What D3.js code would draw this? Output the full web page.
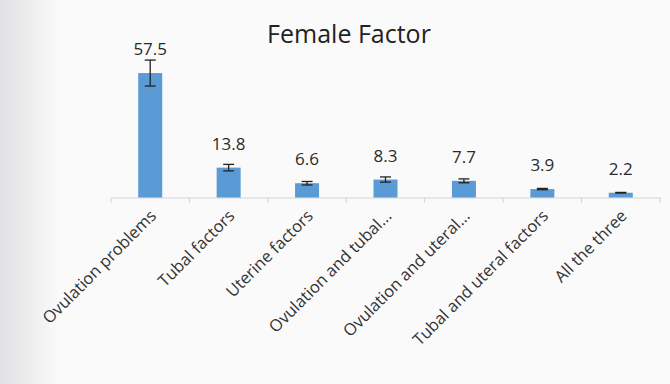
<!DOCTYPE html>
<html lang="en">
<head>
    <meta charset="UTF-8">
    <title>Female Factor</title>
    <script src="https://d3js.org/d3.v7.min.js"></script>
    <style>
        body { margin: 0; background: #fafafb; }
        svg { display: block; }
    </style>
</head>
<body>
    <svg id="chart"></svg>

    <script>
        const categories = ["Ovulation problems", "Tubal factors", "Uterine factors", "Ovulation and tubal...",
            "Ovulation and uteral...", "Tubal and uteral factors", "All the three"];
        const values = [57.5, 13.8, 6.6, 8.3, 7.7, 3.9, 2.2];
        const errors = [6.0, 1.5, 0.8, 1.2, 0.9, 0.3, 0.15];

        const width = 670;
        const height = 384;
        const font = "'Open Sans', 'Liberation Sans', sans-serif";

        const svg = d3.select("#chart")
            .attr("width", width)
            .attr("height", height);

        // slide shading on the left
        const grad = svg.append("defs").append("linearGradient")
            .attr("id", "edge").attr("x1", 0).attr("x2", 1);
        grad.append("stop").attr("offset", "0%").attr("stop-color", "#e1e1e3");
        grad.append("stop").attr("offset", "100%").attr("stop-color", "#fafafb");
        svg.append("rect").attr("width", width).attr("height", height).attr("fill", "#fafafb");
        svg.append("rect").attr("width", 60).attr("height", height).attr("fill", "url(#edge)");

        const x = d3.scaleBand()
            .domain(categories)
            .range([111, 660]);

        const y = d3.scaleLinear()
            .domain([0, 70])
            .range([197.5, 46]);

        // axis
        const xAxis = svg.append("g")
            .attr("transform", "translate(0,197.5)")
            .call(d3.axisBottom(x).tickSize(0).tickFormat(""));
        xAxis.select(".domain").attr("stroke", "#d4d4d4");

        svg.append("g")
            .selectAll("line")
            .data(d3.range(categories.length + 1))
            .join("line")
            .attr("x1", i => 111 + i * x.step())
            .attr("x2", i => 111 + i * x.step())
            .attr("y1", 197.5)
            .attr("y2", 203)
            .attr("stroke", "#d4d4d4");

        const barW = 24;

        svg.append("g")
            .selectAll("rect")
            .data(values)
            .join("rect")
            .attr("x", (d, i) => x(categories[i]) + x.bandwidth() / 2 - barW / 2)
            .attr("y", d => y(d))
            .attr("width", barW)
            .attr("height", d => y(0) - y(d))
            .attr("fill", "#5b9bd5");

        // error bars
        const eb = svg.append("g")
            .attr("stroke", "#222")
            .attr("stroke-width", 1.3);
        values.forEach((v, i) => {
            const cx = x(categories[i]) + x.bandwidth() / 2;
            const top = y(v + errors[i]);
            const bot = y(v - errors[i]);
            eb.append("line").attr("x1", cx).attr("x2", cx).attr("y1", top).attr("y2", bot);
            eb.append("line").attr("x1", cx - 5.5).attr("x2", cx + 5.5).attr("y1", top).attr("y2", top);
            eb.append("line").attr("x1", cx - 5.5).attr("x2", cx + 5.5).attr("y1", bot).attr("y2", bot);
        });

        // value labels
        svg.append("g")
            .selectAll("text")
            .data(values)
            .join("text")
            .attr("x", (d, i) => x(categories[i]) + x.bandwidth() / 2)
            .attr("y", d => y(d) - 18)
            .attr("text-anchor", "middle")
            .style("font-family", font)
            .style("font-size", "17px")
            .attr("fill", "#2a2a2a")
            .text(d => d.toFixed(1));

        // category labels
        svg.append("g")
            .selectAll("text")
            .data(categories)
            .join("text")
            .attr("transform", d => `translate(${x(d) + x.bandwidth() / 2 + 7},${217}) rotate(-45)`)
            .attr("text-anchor", "end")
            .style("font-family", font)
            .style("font-size", "16.5px")
            .attr("fill", "#333")
            .text(d => d);

        svg.append("text")
            .attr("x", 349)
            .attr("y", 43)
            .attr("text-anchor", "middle")
            .style("font-family", font)
            .style("font-size", "25px")
            .attr("fill", "#222")
            .text("Female Factor");
    </script>
</body>
</html>
